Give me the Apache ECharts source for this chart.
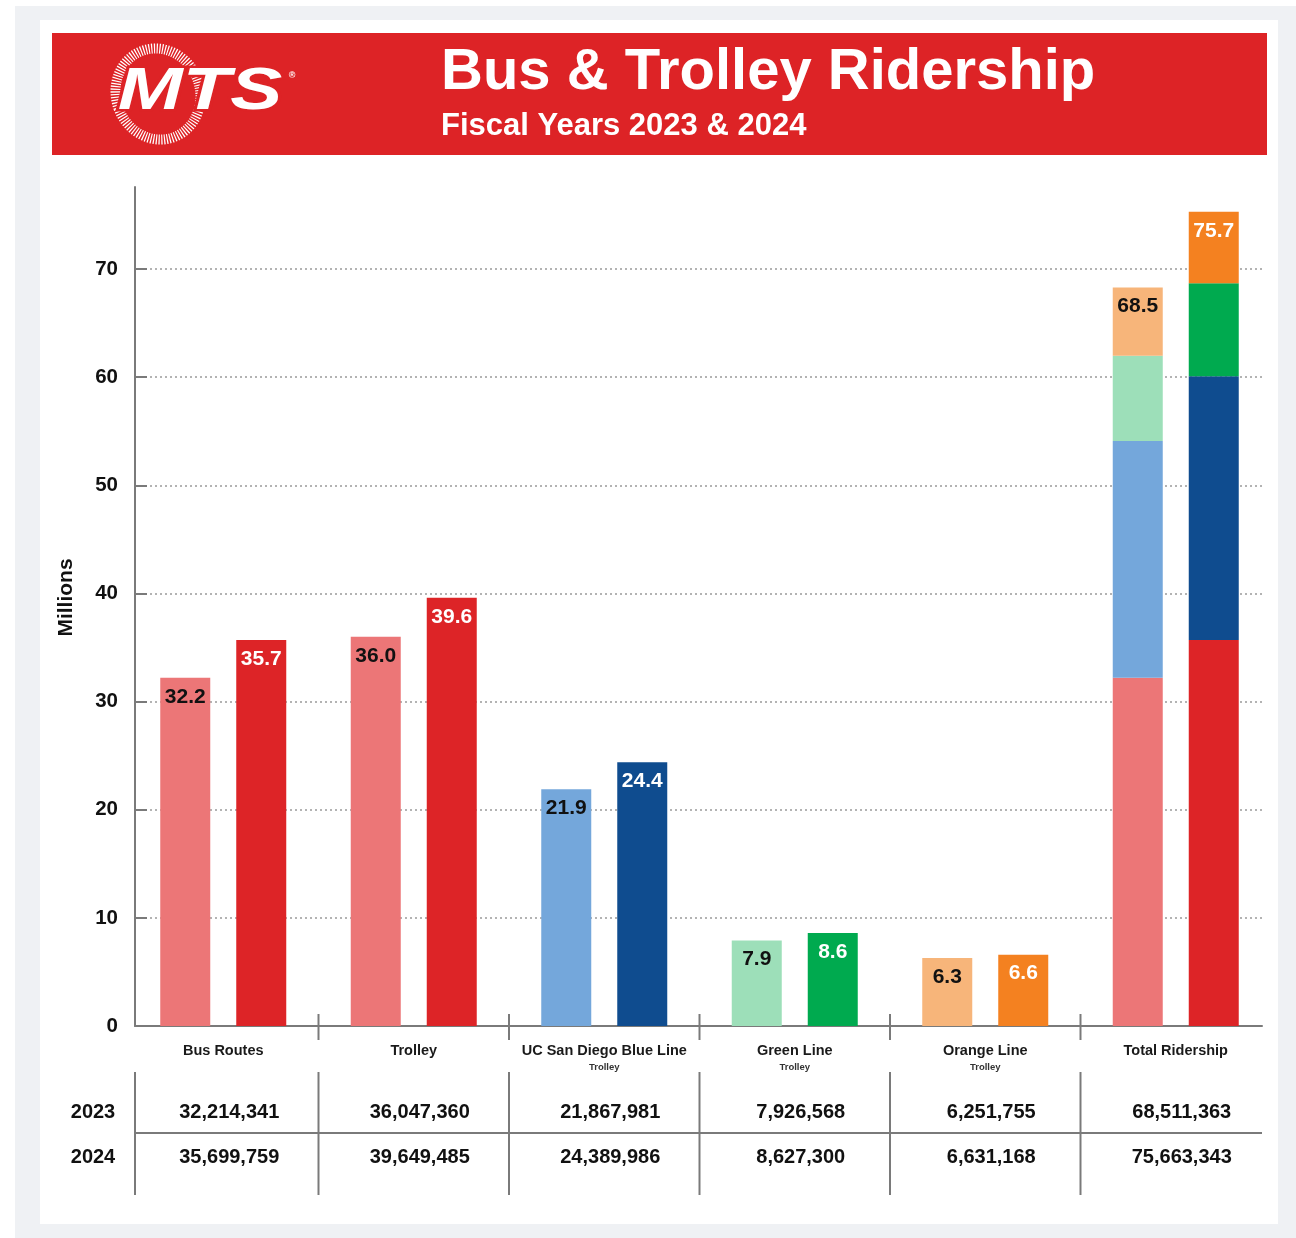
<!DOCTYPE html>
<html>
<head>
<meta charset="utf-8">
<script src="https://cdn.jsdelivr.net/npm/echarts@6/dist/echarts.min.js"></script>
<style>
html,body{margin:0;padding:0;background:#ffffff;}
#c{width:1296px;height:1238px;}
</style>
</head>
<body>
<div id="c"></div>
<script>
// ---------------- data ----------------
const categories = ['Bus Routes', 'Trolley', 'UC San Diego Blue Line', 'Green Line', 'Orange Line', 'Total Ridership'];
const categorySubs = ['', '', 'Trolley', 'Trolley', 'Trolley', ''];
const rowYears = ['2023', '2024'];
const millions2023 = [32.2, 36.0, 21.9, 7.9, 6.3];
const millions2024 = [35.7, 39.6, 24.4, 8.6, 6.6];
const totalMillions = [68.5, 75.7];
const stackParts = [0, 2, 3, 4]; // Total = Bus Routes + Blue + Green + Orange lines
const riders2023 = ['32,214,341', '36,047,360', '21,867,981', '7,926,568', '6,251,755', '68,511,363'];
const riders2024 = ['35,699,759', '39,649,485', '24,389,986', '8,627,300', '6,631,168', '75,663,343'];
const yTickValues = [0, 10, 20, 30, 40, 50, 60, 70];

// ---------------- styles ----------------
const FONT = '"Liberation Sans", Arial, Helvetica, sans-serif';
const lightColors = ['#ec7677', '#ec7677', '#74a7db', '#9ddfb9', '#f7b57a'];
const darkColors  = ['#dd2427', '#dd2427', '#0f4c8f', '#00aa4f', '#f48120'];
const AXIS = '#7a7a7a';

function yearSeries(name, vals, colors, stack, labelColor, total) {
  return stackParts.map((p, k) => {
    const data = categories.map((c, i) => {
      const single = i < vals.length;
      let v;
      if (single) { if (k !== 0) return '-'; v = vals[i]; }
      else v = vals[p];
      return {
        value: v,
        itemStyle: { color: single ? colors[i] : colors[p] },
        label: { show: single ? true : (k === stackParts.length - 1) }
      };
    });
    return {
      name: name,
      type: 'bar',
      stack: stack,
      xAxisIndex: 0,
      yAxisIndex: 0,
      barWidth: 50,
      barGap: '52%',
      data: data,
      label: {
        position: 'insideTop',
        distance: 8,
        color: labelColor,
        fontFamily: FONT,
        fontWeight: 'bold',
        fontSize: 21,
        lineHeight: 22,
        formatter: (pp) => pp.dataIndex === categories.length - 1 ? total.toFixed(1) : Number(pp.value).toFixed(1)
      },
      emphasis: { disabled: true }
    };
  });
}

const chart = echarts.init(document.getElementById('c'), null, { renderer: 'canvas' });

const option = {
  animation: false,
  backgroundColor: 'transparent',
  title: {
    text: 'Bus & Trolley Ridership',
    subtext: 'Fiscal Years 2023 & 2024',
    left: 441,
    top: 43,
    padding: 0,
    itemGap: 7,
    textStyle: { color: '#ffffff', fontFamily: FONT, fontWeight: 'bold', fontSize: 58, lineHeight: 60 },
    subtextStyle: { color: '#ffffff', fontFamily: FONT, fontWeight: 'bold', fontSize: 31, lineHeight: 32 }
  },
  grid: [
    { left: 128, right: 25, top: 187, bottom: 212, containLabel: false },
    { left: 135, right: 34, top: 269, bottom: 212, containLabel: false }
  ],
  xAxis: [
    {
      type: 'category',
      gridIndex: 0,
      data: categories,
      axisLine: { show: false },
      axisTick: { show: false },
      axisLabel: {
        margin: 16,
        interval: 0,
        formatter: (v, i) => '{n|' + v + '}' + (categorySubs[i] ? '\n{s|' + categorySubs[i] + '}' : ''),
        rich: {
          n: { fontFamily: FONT, fontWeight: 'bold', fontSize: 14.5, lineHeight: 18, color: '#1a1a1a' },
          s: { fontFamily: FONT, fontWeight: 'bold', fontSize: 9.5, lineHeight: 14, color: '#333333' }
        }
      }
    },
    {
      type: 'value',
      gridIndex: 1,
      min: 0, max: 1,
      axisLine: { show: true, lineStyle: { color: AXIS, width: 2 } },
      axisTick: { show: false },
      axisLabel: { show: false },
      splitLine: { show: false }
    }
  ],
  yAxis: [
    {
      type: 'value',
      gridIndex: 0,
      min: 0,
      max: 77.6,
      offset: -7,
      name: 'Millions',
      nameLocation: 'middle',
      nameRotate: 90,
      nameGap: 58,
      nameTextStyle: { fontFamily: FONT, fontWeight: 'bold', fontSize: 21, color: '#111111', padding: [0, 0, 0, 18] },
      axisLine: { show: true, lineStyle: { color: AXIS, width: 2 } },
      axisTick: { show: false },
      axisLabel: { show: false },
      splitLine: { show: false }
    },
    {
      type: 'value',
      gridIndex: 1,
      min: 0,
      max: yTickValues[yTickValues.length - 1],
      interval: 10,
      axisLine: { show: false },
      axisTick: { show: true, inside: true, length: 12, lineStyle: { color: AXIS, width: 2 } },
      axisLabel: {
        margin: 17,
        fontFamily: FONT, fontWeight: 'bold', fontSize: 20.5, color: '#111111'
      },
      splitLine: { show: true, lineStyle: { color: '#9a9a9a', width: 1.6, type: [2, 3] } }
    }
  ],
  series: [
    ...yearSeries(rowYears[0], millions2023, lightColors, 'fy2023', '#111111', totalMillions[0]),
    ...yearSeries(rowYears[1], millions2024, darkColors, 'fy2024', '#ffffff', totalMillions[1])
  ]
};

chart.setOption(option);

// ---------------- frame, header logo and data table ----------------
const centers = categories.map((c, i) => chart.convertToPixel({ xAxisIndex: 0 }, i));
const step = centers[1] - centers[0];
const bounds = centers.slice(1).map(x => x - step / 2);
const zeroY = chart.convertToPixel({ yAxisIndex: 1 }, 0);
const axisX = chart.convertToPixel({ xAxisIndex: 1 }, 0);
const axisEnd = chart.convertToPixel({ xAxisIndex: 1 }, 1);

const tableTop = zeroY + 46, tableMid = zeroY + 107, tableBottom = zeroY + 169;
const row1Y = zeroY + 86, row2Y = zeroY + 131;

const g = [];
// page frame
g.push({ type: 'rect', z: -30, silent: true, shape: { x: 15, y: 6, width: 1281, height: 1232 }, style: { fill: '#eff1f4' } });
g.push({ type: 'rect', z: -29, silent: true, shape: { x: 40, y: 20, width: 1238, height: 1204 }, style: { fill: '#ffffff' } });
g.push({ type: 'rect', z: -28, silent: true, shape: { x: 52, y: 33, width: 1215, height: 122 }, style: { fill: '#dd2326' } });
// logo
g.push({ type: 'ellipse', z: -27, silent: true, rotation: 0.35, originX: 158, originY: 94,
  shape: { cx: 158, cy: 94, rx: 42, ry: 46 },
  style: { fill: 'none', stroke: '#ffffff', lineWidth: 10, lineDash: [1.2, 1.5] } });
g.push({ type: 'text', z: -26, silent: true, x: 200, y: 92, scaleX: 1.3, originX: 0, originY: 0,
  style: { text: 'MTS', fill: '#ffffff', stroke: '#dd2326', lineWidth: 5, font: 'italic 900 60px ' + FONT, align: 'center', verticalAlign: 'middle' } });
g.push({ type: 'text', z: -26, silent: true, x: 292, y: 76,
  style: { text: '®', fill: '#ffffff', font: 'bold 9px ' + FONT, align: 'center', verticalAlign: 'middle' } });
// category separators across the x axis
bounds.forEach(x => {
  g.push({ type: 'line', silent: true, shape: { x1: x, y1: zeroY - 12, x2: x, y2: zeroY + 14 }, style: { stroke: AXIS, lineWidth: 2 } });
});
// table lines
[axisX].concat(bounds).forEach(x => {
  g.push({ type: 'line', silent: true, shape: { x1: x, y1: tableTop, x2: x, y2: tableBottom }, style: { stroke: AXIS, lineWidth: 2 } });
});
g.push({ type: 'line', silent: true, shape: { x1: axisX, y1: tableMid, x2: axisEnd, y2: tableMid }, style: { stroke: AXIS, lineWidth: 2 } });
// table texts
const rowVals = [riders2023, riders2024];
[row1Y, row2Y].forEach((y, r) => {
  g.push({ type: 'text', silent: true, x: 93, y: y,
    style: { text: rowYears[r], fill: '#111111', font: 'bold 20px ' + FONT, align: 'center', verticalAlign: 'middle' } });
  rowVals[r].forEach((t, i) => {
    g.push({ type: 'text', silent: true, x: centers[i] + 6, y: y,
      style: { text: t, fill: '#111111', font: 'bold 20px ' + FONT, align: 'center', verticalAlign: 'middle' } });
  });
});

chart.setOption({ graphic: { elements: g } });
</script>
</body>
</html>
